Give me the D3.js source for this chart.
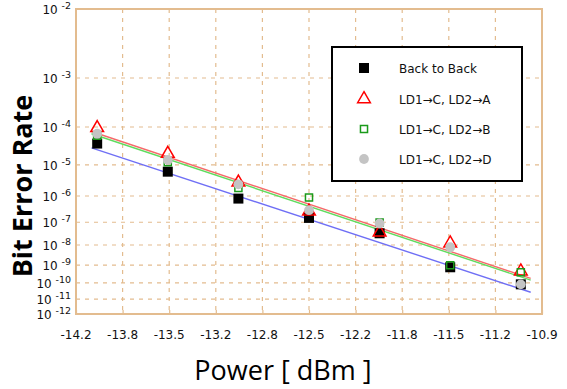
<!DOCTYPE html>
<html>
<head>
<meta charset="utf-8">
<script src="https://cdn.jsdelivr.net/npm/d3@7"></script>
<style>
  body { margin: 0; background: #fff; }
  svg { display: block; }
</style>
</head>
<body>
<div id="graph"></div>
<script>
// power levels (dBm) where BER was measured
const power = [-14, -13.5, -13, -12.5, -12, -11.5, -11];

// measured bit error rates
const berB2B = [3.9e-5, 6.3e-6, 8.1e-7, 1.5e-7, 3.4e-8, 7.6e-10, 8.3e-11];
const berA   = [9.5e-5, 2.1e-5, 2.9e-6, 2.7e-7, 3.7e-8, 1.2e-8, 4.6e-10];
const berB   = [6.2e-5, 1.2e-5, 1.9e-6, 8.9e-7, 9.8e-8, 9.8e-10, 4.1e-10];
const berD   = [6.9e-5, 1.4e-5, 2.5e-6, 3.0e-7, 8.9e-8, 7.8e-9, 8.3e-11];

// fitted lines (end points)
const fitPower = [-14.04, -10.93];
const fitB2B = [3.0e-5, 2.75e-11];
const fitA   = [7.8e-5, 1.86e-10];
const fitB   = [6.9e-5, 1.45e-10];

// axis ticks
const xTicks = [-14.15, -13.82, -13.49, -13.16, -12.83, -12.5, -12.17, -11.84, -11.51, -11.18, -10.85];
const xTickLabels = ["-14.2", "-13.8", "-13.5", "-13.2", "-12.8", "-12.5", "-12.2", "-11.8", "-11.5", "-11.2", "-10.9"];
const yExponents = [2, 3, 4, 5, 6, 7, 8, 9, 10, 11, 12];

const legendLabels = ["Back to Back", "LD1\u2192C, LD2\u2192A", "LD1\u2192C, LD2\u2192B", "LD1\u2192C, LD2\u2192D"];

const W = 567, H = 389;
const L = 76, R = 542, T = 9, B = 314;
const tan = "#e3bc8f";
const tickFont = "'DejaVu Sans', sans-serif";

const svg = d3.select("#graph").append("svg").attr("width", W).attr("height", H);

const x = d3.scaleLinear().domain([-14.15, -10.85]).range([L, R]);
// BER scale: log of -log10(BER)
const yLog = d3.scaleLog().domain([2, 12]).range([T, B]);
const y = ber => yLog(-Math.log10(ber));

// grid
svg.append("g").selectAll("line").data(xTicks.slice(1, -1)).enter().append("line")
    .attr("x1", d => x(d)).attr("x2", d => x(d))
    .attr("y1", T).attr("y2", B)
    .attr("stroke", tan).attr("stroke-width", 1.2).attr("stroke-dasharray", "4,5");
svg.append("g").selectAll("line").data(yExponents.slice(1, -1)).enter().append("line")
    .attr("x1", L).attr("x2", R)
    .attr("y1", d => yLog(d)).attr("y2", d => yLog(d))
    .attr("stroke", tan).attr("stroke-width", 1.2).attr("stroke-dasharray", "4,5");

// x axis
const xAxis = d3.axisTop(x).tickValues(xTicks).tickSize(4).tickFormat("");
const gx = svg.append("g").attr("transform", "translate(0," + B + ")").call(xAxis);
gx.select(".domain").remove();
gx.selectAll("line").attr("stroke", tan).attr("stroke-width", 1.2);
svg.append("g").selectAll("text").data(xTicks).enter().append("text")
    .attr("x", d => x(d)).attr("y", 339)
    .attr("text-anchor", "middle")
    .style("font-family", tickFont)
    .style("font-size", "12px").attr("fill", "#111")
    .text((d, i) => xTickLabels[i]);

// y axis labels
const yl = svg.append("g").selectAll("text").data(yExponents).enter().append("text")
    .attr("x", 71).attr("y", d => yLog(d) + 5)
    .attr("text-anchor", "end")
    .style("font-family", tickFont)
    .style("font-size", "12px").attr("fill", "#111");
yl.append("tspan").text("10 ");
yl.append("tspan").attr("dy", -5).style("font-size", "9.5px").text(d => "-" + d);

// plot border
svg.append("rect").attr("x", L).attr("y", T).attr("width", R - L).attr("height", B - T)
    .attr("fill", "none").attr("stroke", tan).attr("stroke-width", 2);

// fit lines
const line = d3.line().x(d => x(d[0])).y(d => y(d[1]));
[[fitB2B, "#6f6ff5"], [fitB, "#5fdc5f"], [fitA, "#f56a6a"]].forEach(([f, c]) => {
    svg.append("path").datum(fitPower.map((p, i) => [p, f[i]]))
        .attr("d", line).attr("fill", "none").attr("stroke", c).attr("stroke-width", 1.4);
});

const sym = {
    b2b: d3.symbol().type(d3.symbolSquare).size(100),
    tri: d3.symbol().type(d3.symbolTriangle).size(70),
    sq: d3.symbol().type(d3.symbolSquare).size(50),
    circ: d3.symbol().type(d3.symbolCircle).size(75)
};
const series = [
    { data: berB2B, s: sym.b2b, fill: "#000", stroke: "none" },
    { data: berA, s: sym.tri, fill: "none", stroke: "#f00" },
    { data: berB, s: sym.sq, fill: "none", stroke: "#1a9a1a" },
    { data: berD, s: sym.circ, fill: "#c4c4c4", stroke: "none" }
];
series.forEach(se => {
    svg.append("g").selectAll("path").data(se.data).enter().append("path")
        .attr("d", se.s)
        .attr("transform", (d, i) => "translate(" + x(power[i]) + "," + y(d) + ")")
        .attr("fill", se.fill).attr("stroke", se.stroke).attr("stroke-width", 1.5);
});

// legend
const lg = svg.append("g");
lg.append("rect").attr("x", 332).attr("y", 47).attr("width", 190).attr("height", 134)
    .attr("fill", "#fff").attr("stroke", "#000").attr("stroke-width", 2);
const rowY = [68, 99, 129, 159];
series.forEach((se, i) => {
    lg.append("path").attr("d", se.s)
        .attr("transform", "translate(364," + rowY[i] + ")")
        .attr("fill", se.fill).attr("stroke", se.stroke).attr("stroke-width", 1.5);
    lg.append("text").attr("x", 399).attr("y", rowY[i] + 5)
        .style("font-family", tickFont)
        .style("font-size", "12px").attr("fill", "#111")
        .text(legendLabels[i]);
});

// axis titles
svg.append("text").attr("transform", "translate(32,186) rotate(-90)")
    .attr("text-anchor", "middle")
    .style("font-family", "'Open Sans', sans-serif").style("font-weight", "700")
    .style("font-size", "27px").text("Bit Error Rate");
svg.append("text").attr("x", 283).attr("y", 380)
    .attr("text-anchor", "middle")
    .style("font-family", "'Open Sans', sans-serif")
    .style("font-size", "27px").text("Power [ dBm ]");
</script>
</body>
</html>
